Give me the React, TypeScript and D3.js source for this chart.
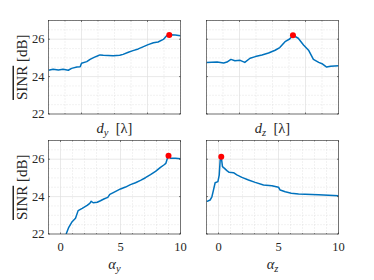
import React from "react";
import * as d3 from "d3";

// d_y sweep
const dyX = [0.5, 0.57, 0.65, 0.72, 0.8, 0.85, 0.93, 0.98, 1.0, 1.08, 1.13, 1.19, 1.24, 1.28, 1.33, 1.48, 1.58, 1.63, 1.71, 1.78, 1.86, 1.94, 2.01, 2.09, 2.16, 2.24, 2.29, 2.34, 2.42, 2.5];
const dySinr = [24.34, 24.39, 24.35, 24.39, 24.34, 24.44, 24.51, 24.53, 24.71, 24.8, 24.92, 25.03, 25.1, 25.16, 25.14, 25.12, 25.14, 25.19, 25.3, 25.39, 25.48, 25.6, 25.71, 25.81, 25.85, 25.99, 26.19, 26.24, 26.22, 26.19];
const dyBest = [2.33, 26.22];

// d_z sweep
const dzX = [0.5, 0.66, 0.76, 0.81, 0.87, 0.93, 1.01, 1.08, 1.16, 1.24, 1.34, 1.44, 1.54, 1.61, 1.69, 1.76, 1.81, 1.89, 1.97, 2.05, 2.12, 2.2, 2.25, 2.32, 2.38, 2.5];
const dzSinr = [24.76, 24.78, 24.73, 24.78, 24.92, 24.85, 24.87, 24.76, 24.98, 25.07, 25.16, 25.26, 25.41, 25.55, 25.87, 26.01, 26.21, 26.05, 25.69, 25.39, 24.92, 24.76, 24.69, 24.51, 24.55, 24.58];
const dzBest = [1.81, 26.21];

// alpha_y sweep
const ayX = [0.47, 0.69, 0.97, 1.25, 1.47, 1.81, 2.22, 2.44, 2.56, 2.72, 3.06, 3.33, 3.61, 3.94, 4.11, 4.44, 5.0, 5.42, 5.83, 6.25, 6.67, 7.08, 7.5, 7.92, 8.33, 8.61, 8.78, 8.97, 9.17, 9.58, 10];
const aySinr = [22.0, 22.36, 22.66, 22.84, 23.25, 23.37, 23.53, 23.64, 23.75, 23.67, 23.7, 23.78, 23.87, 23.96, 24.12, 24.23, 24.41, 24.51, 24.64, 24.74, 24.87, 25.01, 25.17, 25.35, 25.56, 25.69, 25.78, 26.17, 26.05, 26.05, 26.03];
const ayBest = [9.0, 26.19];

// alpha_z sweep
const azX = [-1, -0.69, -0.55, -0.42, -0.28, -0.05, 0.06, 0.14, 0.23, 0.33, 0.5, 0.7, 0.89, 1.25, 1.53, 1.95, 2.5, 3.06, 3.75, 4.45, 5.0, 5.14, 5.56, 6.06, 6.67, 8.33, 10];
const azSinr = [23.73, 23.82, 23.99, 24.35, 24.74, 24.8, 25.15, 25.96, 26.13, 25.6, 25.51, 25.39, 25.3, 25.28, 25.16, 25.03, 24.89, 24.76, 24.62, 24.58, 24.5, 24.35, 24.26, 24.18, 24.14, 24.1, 24.05];
const azBest = [0.23, 26.13];

const yTicks = [22, 24, 26];
const dTicks = [1, 2];
const alphaTicks = [0, 5, 10];

const FONT = "Liberation Serif";
const BLUE = "#0072BD";

interface PanelProps {
  id: string;
  x0: number;
  y0: number;
  xs: number[];
  ys: number[];
  best: number[];
  xDomain: [number, number];
  xTicks: number[];
  xMinor: number;
  showXLabels: boolean;
  showYLabels: boolean;
  xLabel: React.ReactNode;
}

const W = 132;
const H = 93.5;

const Panel: React.FC<PanelProps> = ({ id, x0, y0, xs, ys, best, xDomain, xTicks, xMinor, showXLabels, showYLabels, xLabel }) => {
  const x = d3.scaleLinear().domain(xDomain).range([0, W]);
  const y = d3.scaleLinear().domain([22, 27]).range([H, 0]);

  const xMinorTicks = d3.range(xDomain[0], xDomain[1] + 1e-9, xMinor).filter((v) => !xTicks.some((t) => Math.abs(t - v) < 1e-6));
  const yMinorTicks = d3.range(22, 27.0001, 0.5).filter((v) => !yTicks.includes(v));

  const line = d3
    .line<number>()
    .x((_, i) => x(xs[i]))
    .y((d) => y(d));

  return (
    <g transform={`translate(${x0},${y0})`}>
      <rect width={W} height={H} fill="#fff" />
      {/* minor grid */}
      {xMinorTicks.map((v) => (
        <line key={"xm" + v} x1={x(v)} x2={x(v)} y1={0} y2={H} stroke="#d4d4d4" strokeWidth={0.6} strokeDasharray="1,2" />
      ))}
      {yMinorTicks.map((v) => (
        <line key={"ym" + v} x1={0} x2={W} y1={y(v)} y2={y(v)} stroke="#d4d4d4" strokeWidth={0.6} strokeDasharray="1,2" />
      ))}
      {/* major grid */}
      {xTicks.map((v) => (
        <line key={"xg" + v} x1={x(v)} x2={x(v)} y1={0} y2={H} stroke="#e0e0e0" strokeWidth={0.7} />
      ))}
      {yTicks.map((v) => (
        <line key={"yg" + v} x1={0} x2={W} y1={y(v)} y2={y(v)} stroke="#e0e0e0" strokeWidth={0.7} />
      ))}
      <clipPath id={id}>
        <rect width={W} height={H} />
      </clipPath>
      <path d={line(ys) || ""} fill="none" stroke={BLUE} strokeWidth={1.5} strokeLinejoin="round" clipPath={`url(#${id})`} />
      <circle cx={x(best[0])} cy={y(best[1])} r={3} fill="#ff0000" />
      {/* ticks */}
      {xTicks.map((v) => (
        <g key={"xt" + v} stroke="#262626" strokeWidth={0.6}>
          <line x1={x(v)} x2={x(v)} y1={H} y2={H - 1.5} />
          <line x1={x(v)} x2={x(v)} y1={0} y2={1.5} />
        </g>
      ))}
      {xMinorTicks.map((v) => (
        <g key={"xmt" + v} stroke="#262626" strokeWidth={0.5}>
          <line x1={x(v)} x2={x(v)} y1={H} y2={H - 0.9} />
          <line x1={x(v)} x2={x(v)} y1={0} y2={0.9} />
        </g>
      ))}
      {yTicks.map((v) => (
        <g key={"yt" + v} stroke="#262626" strokeWidth={0.6}>
          <line x1={0} x2={1.5} y1={y(v)} y2={y(v)} />
          <line x1={W} x2={W - 1.5} y1={y(v)} y2={y(v)} />
        </g>
      ))}
      <rect width={W} height={H} fill="none" stroke="#262626" strokeWidth={0.6} />
      {showYLabels &&
        yTicks.map((v) => (
          <text key={"yl" + v} x={-4} y={y(v)} dy="0.33em" textAnchor="end" fontSize={12.5} fontFamily={FONT} fill="#262626">
            {v}
          </text>
        ))}
      {showXLabels &&
        xTicks.map((v) => (
          <text key={"xl" + v} x={x(v)} y={H + 17} textAnchor="middle" fontSize={12.5} fontFamily={FONT} fill="#262626">
            {v}
          </text>
        ))}
      <text x={W / 2} y={showXLabels ? H + 35 : H + 19} textAnchor="middle" fontSize={14.5} fontFamily={FONT} fill="#262626">
        {xLabel}
      </text>
      {showYLabels && (
        <text transform={`translate(-22,${H / 2}) rotate(-90)`} textAnchor="middle" fontSize={15} fontFamily={FONT} fill="#262626">
          <tspan style={{ textDecoration: "overline" }}>SINR</tspan>
          <tspan>{"\u00a0[dB]"}</tspan>
        </text>
      )}
    </g>
  );
};

const sub = (main: string, s: string, rest?: string) => (
  <>
    <tspan fontStyle="italic">{main}</tspan>
    <tspan fontStyle="italic" fontSize={10.5} dy={3}>
      {s}
    </tspan>
    {rest && <tspan dy={-3}>{rest}</tspan>}
  </>
);

export default function App() {
  return (
    <svg width={374} height={280} style={{ position: "absolute", left: 0, top: 0, background: "#fff" }}>
      <Panel id="c1" x0={48.5} y0={20.5} xs={dyX} ys={dySinr} best={dyBest} xDomain={[0.5, 2.5]} xTicks={dTicks} xMinor={0.25} showXLabels={false} showYLabels={true} xLabel={sub("d", "y", "\u00a0\u00a0[λ]")} />
      <Panel id="c2" x0={206.5} y0={20.5} xs={dzX} ys={dzSinr} best={dzBest} xDomain={[0.5, 2.5]} xTicks={dTicks} xMinor={0.25} showXLabels={false} showYLabels={false} xLabel={sub("d", "z", "\u00a0\u00a0[λ]")} />
      <Panel id="c3" x0={48.5} y0={140.5} xs={ayX} ys={aySinr} best={ayBest} xDomain={[-1, 10]} xTicks={alphaTicks} xMinor={1} showXLabels={true} showYLabels={true} xLabel={sub("α", "y")} />
      <Panel id="c4" x0={206.5} y0={140.5} xs={azX} ys={azSinr} best={azBest} xDomain={[-1, 10]} xTicks={alphaTicks} xMinor={1} showXLabels={true} showYLabels={false} xLabel={sub("α", "z")} />
    </svg>
  );
}
